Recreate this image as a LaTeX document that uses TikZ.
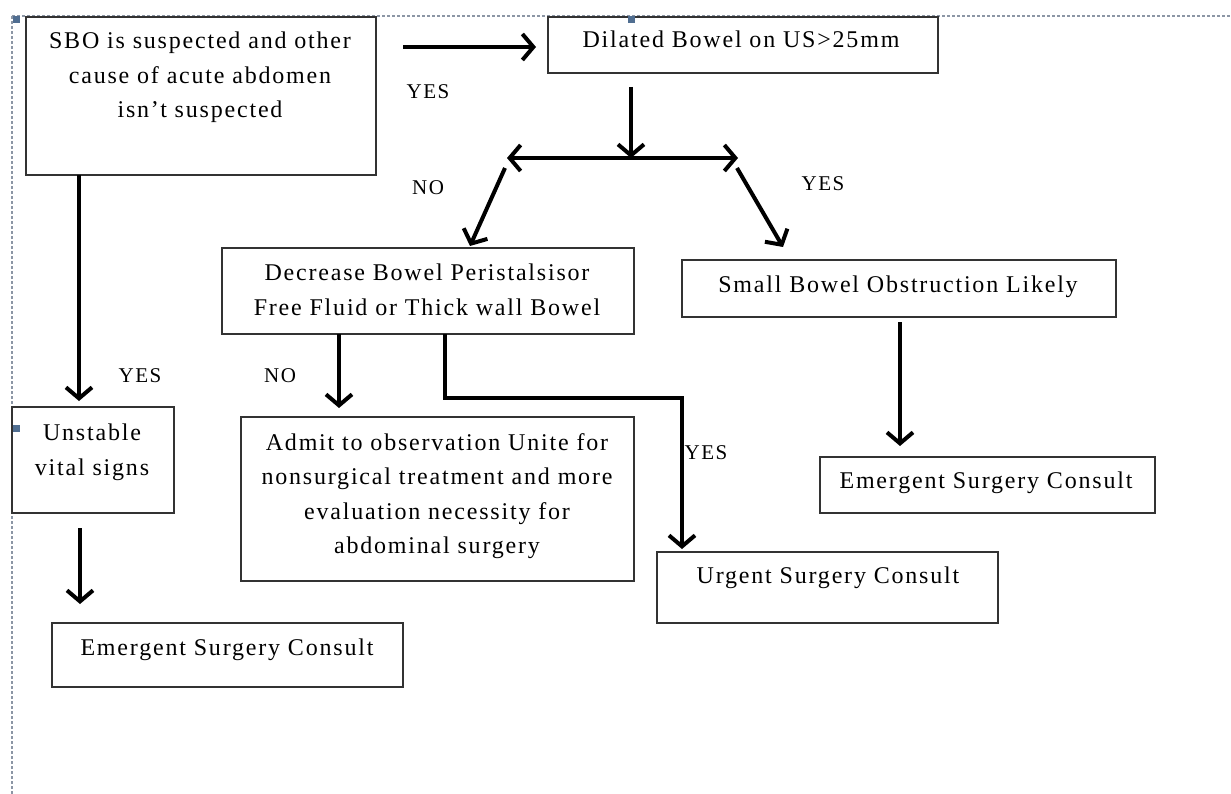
\documentclass[tikz,border=0pt]{standalone}
\usepackage{fontspec}
\setmainfont{Liberation Serif}[LetterSpace=7.5]
\usetikzlibrary{arrows.meta,fit}
\definecolor{selline}{RGB}{140,150,165}
\definecolor{handle}{RGB}{80,110,145}
\begin{document}
\begin{tikzpicture}[x=1pt,y=-1pt,
  box/.style={draw=black!80, line width=2pt, inner sep=0pt},
  txt/.style={font=\fontsize{24}{34.5}\selectfont, align=center, inner sep=0pt, anchor=north},
  lbl/.style={font=\fontsize{21}{24}\selectfont, inner sep=0pt},
  arr/.style={line width=4pt, -{Straight Barb[length=11pt,width=26pt]}},
  darr/.style={line width=4pt, {Straight Barb[length=11pt,width=26pt]}-{Straight Barb[length=11pt,width=26pt]}},
  sel/.style={draw=selline, line width=1.3pt, dash pattern=on 3pt off 2pt},
  hdl/.style={fill=handle, draw=none}
]
\useasboundingbox (0,0) rectangle (1231,794);
\fill[white] (0,0) rectangle (1231,794);

% selection frame
\draw[sel] (12,16) -- (1231,16);
\draw[sel] (12,16) -- (12,794);

% boxes
\coordinate (a1) at (26,17);   \coordinate (a2) at (376,175);
\coordinate (b1) at (548,17);  \coordinate (b2) at (938,73);
\coordinate (c1) at (222,248); \coordinate (c2) at (634,334);
\coordinate (d1) at (682,260); \coordinate (d2) at (1116,317);
\coordinate (e1) at (12,407);  \coordinate (e2) at (174,513);
\coordinate (f1) at (241,417); \coordinate (f2) at (634,581);
\coordinate (g1) at (52,623);  \coordinate (g2) at (403,687);
\coordinate (h1) at (820,457); \coordinate (h2) at (1155,513);
\coordinate (k1) at (657,552); \coordinate (k2) at (998,623);

\node[box, fit=(a1)(a2)] (sbo) {};
\node[box, fit=(b1)(b2)] (dil) {};
\node[box, fit=(c1)(c2)] (dec) {};
\node[box, fit=(d1)(d2)] (sbl) {};
\node[box, fit=(e1)(e2)] (uns) {};
\node[box, fit=(f1)(f2)] (adm) {};
\node[box, fit=(g1)(g2)] (eml) {};
\node[box, fit=(h1)(h2)] (emr) {};
\node[box, fit=(k1)(k2)] (urg) {};

% texts
\node[txt] (tsbo) at (200,32) {SBO is suspected and other\\cause of acute abdomen\\isn't suspected};
\node[txt] (tdil) at (741,31) {Dilated Bowel on US>25mm};
\node[txt] (tdec) at (427,264) {Decrease Bowel Peristalsisor\\Free Fluid or Thick wall Bowel};
\node[txt] (tsbl) at (898,276) {Small Bowel Obstruction Likely};
\node[txt] (tuns) at (92,424) {Unstable\\vital signs};
\node[txt] (tadm) at (437,433) {Admit to observation Unite for\\nonsurgical treatment and more\\evaluation necessity for\\abdominal surgery};
\node[txt] (teml) at (227,639) {Emergent Surgery Consult};
\node[txt] (temr) at (986,472) {Emergent Surgery Consult};
\node[txt] (turg) at (828,567) {Urgent Surgery Consult};

% labels
\node[lbl] (y1) at (428,92) {YES};
\node[lbl] (n1) at (428,188) {NO};
\node[lbl] (y2) at (823,184) {YES};
\node[lbl] (y3) at (140,376) {YES};
\node[lbl] (n2) at (280,376) {NO};
\node[lbl] (y4) at (706,453) {YES};

% connector end points
\coordinate (p1s) at (403,47);  \coordinate (p1e) at (536,47);
\coordinate (p2s) at (631,87);  \coordinate (p2e) at (631,158);
\coordinate (p3s) at (507,158); \coordinate (p3e) at (738,158);
\coordinate (p4s) at (505,168); \coordinate (p4e) at (470,246);
\coordinate (p5s) at (737,168); \coordinate (p5e) at (783,247);
\coordinate (p6s) at (79,175);  \coordinate (p6e) at (79,401);
\coordinate (p7s) at (80,528);  \coordinate (p7e) at (80,604);
\coordinate (p8s) at (339,334); \coordinate (p8e) at (339,408);
\coordinate (p9s) at (445,334); \coordinate (p9a) at (445,398);
\coordinate (p9b) at (682,398); \coordinate (p9e) at (682,549);
\coordinate (p10s) at (900,322); \coordinate (p10e) at (900,446);

\draw[arr] (p1s) -- (p1e);
\draw[arr] (p2s) -- (p2e);
\draw[darr] (p3s) -- (p3e);
\draw[arr] (p4s) -- (p4e);
\draw[arr] (p5s) -- (p5e);
\draw[arr] (p6s) -- (p6e);
\draw[arr] (p7s) -- (p7e);
\draw[arr] (p8s) -- (p8e);
\draw[arr] (p9s) -- (p9a) -- (p9b) -- (p9e);
\draw[arr] (p10s) -- (p10e);

% selection handles
\fill[hdl] (13,16) rectangle (20,23);
\fill[hdl] (628,16) rectangle (635,23);
\fill[hdl] (13,425) rectangle (20,432);
\end{tikzpicture}
\end{document}
